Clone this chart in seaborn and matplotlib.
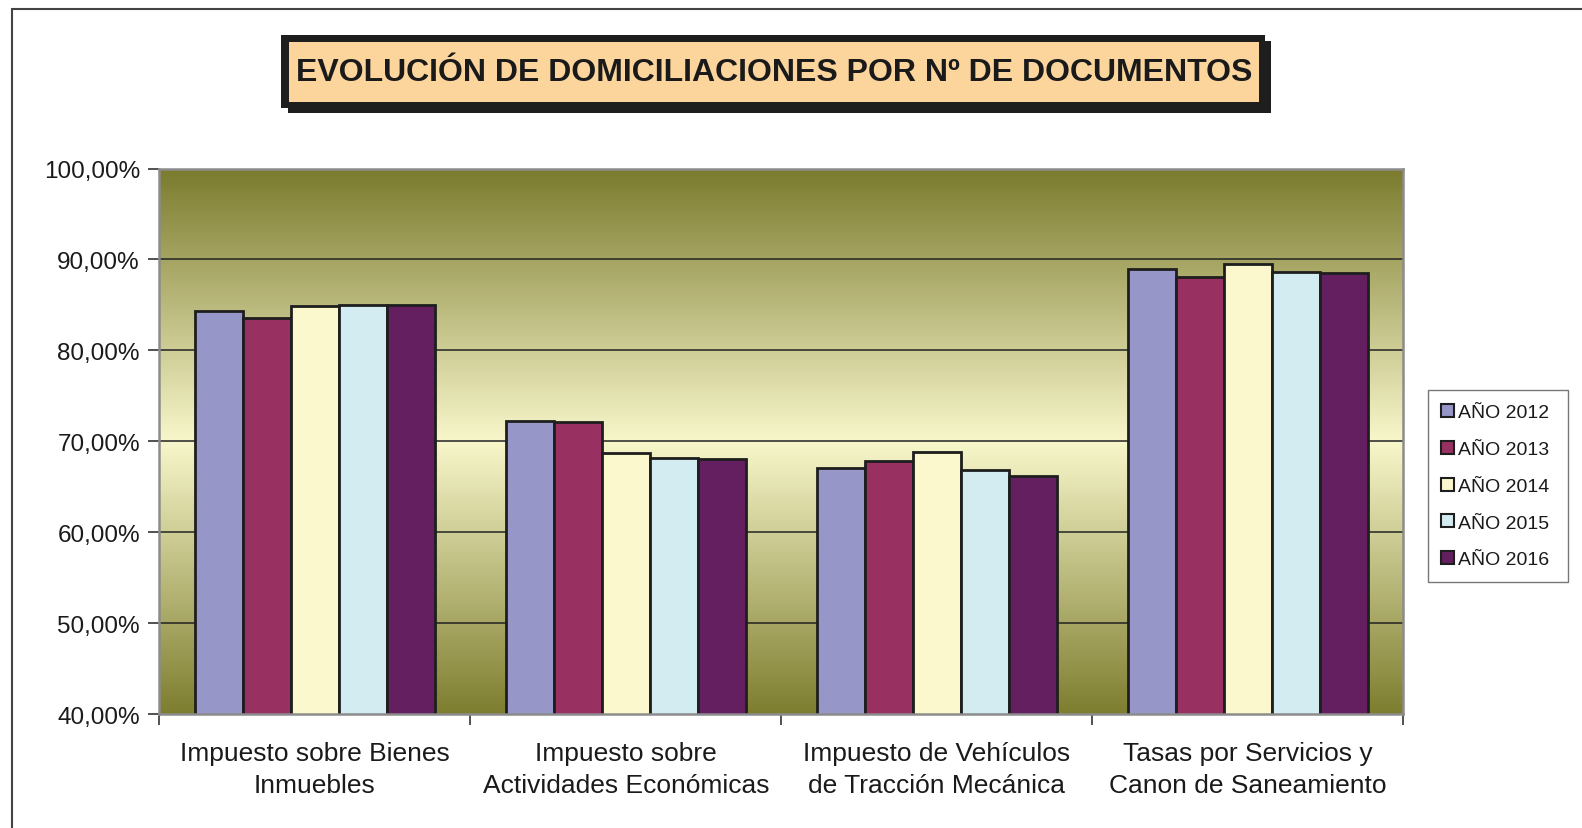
import numpy as np
import pandas as pd
import matplotlib
matplotlib.use("Agg")
import matplotlib.pyplot as plt
from matplotlib.colors import LinearSegmentedColormap
from matplotlib.patches import Rectangle, Patch
from matplotlib.ticker import FuncFormatter
import seaborn as sns

# data
categories = [
    "Impuesto sobre Bienes\nInmuebles",
    "Impuesto sobre\nActividades Económicas",
    "Impuesto de Vehículos\nde Tracción Mecánica",
    "Tasas por Servicios y\nCanon de Saneamiento",
]
years = ["AÑO 2012", "AÑO 2013", "AÑO 2014", "AÑO 2015", "AÑO 2016"]
v2012 = [84.35, 72.25, 67.05, 89.00]
v2013 = [83.55, 72.15, 67.80, 88.10]
v2014 = [84.90, 68.70, 68.80, 89.45]
v2015 = [85.00, 68.15, 66.90, 88.65]
v2016 = [85.00, 68.05, 66.25, 88.55]
colors = ["#9696C8", "#983062", "#FAF8CC", "#D3ECF2", "#631F60"]

series = [v2012, v2013, v2014, v2015, v2016]
df = pd.DataFrame({
    "cat": [c for s in series for c in categories],
    "year": [y for y, s in zip(years, series) for _ in s],
    "val": [v for s in series for v in s],
})

sns.set_style("white")
plt.rcParams["font.family"] = ["Liberation Sans", "DejaVu Sans"]
plt.rcParams["hatch.color"] = "#F2C68E"
plt.rcParams["hatch.linewidth"] = 0.8

fig = plt.figure(figsize=(15.82, 8.29), dpi=100)
W, H = 1582, 829
s = 1582 / 1568  # positions were measured on the shrunk preview


def fx(x):
    return x * s / W


def fy(y):
    return 1 - y * s / H


ax = fig.add_axes([fx(158), fy(709), fx(1391) - fx(158), fy(168) - fy(709)])

# background gradient: dark olive at top/bottom, pale yellow in the middle
cmap = LinearSegmentedColormap.from_list("bg", ["#7B7B2E", "#F8F7CB", "#7E7E30"])
grad = np.linspace(0, 1, 256).reshape(-1, 1)
ax.imshow(grad, cmap=cmap, extent=[-0.5, 3.5, 40, 100], aspect="auto", zorder=0)

sns.barplot(data=df, x="cat", y="val", hue="year", palette=colors,
            width=0.773, edgecolor="#1E1E1E", linewidth=2.0, saturation=1,
            ax=ax, legend=False, zorder=2)

ax.set_xlim(-0.5, 3.5)
ax.set_ylim(40, 100)
ax.set_yticks(np.arange(40, 101, 10))
ax.yaxis.set_major_formatter(FuncFormatter(lambda v, p: f"{v:.2f}".replace(".", ",") + "%"))
for yv in [50, 60, 70, 80, 90]:
    ax.axhline(yv, color="#222222", lw=1.1, zorder=1)

ax.set_xlabel("")
ax.set_ylabel("")
ax.tick_params(axis="y", which="major", left=True, length=8, width=1.2, color="#333333",
               labelsize=17.5, labelcolor="#1A1A1A", pad=6)
ax.tick_params(axis="x", which="major", bottom=False, length=0, labelsize=19,
               labelcolor="#1A1A1A", pad=19)
ax.set_xticks([-0.5, 0.5, 1.5, 2.5, 3.5], minor=True)
ax.tick_params(axis="x", which="minor", bottom=True, length=8, width=1.2, color="#333333")
for lbl in ax.get_xticklabels():
    lbl.set_linespacing(1.42)
    lbl.set_ha("center")

for side in ["left", "right", "top", "bottom"]:
    ax.spines[side].set_visible(True)
    ax.spines[side].set_color("#8C8C8C")
    ax.spines[side].set_linewidth(1.8)

# legend
handles = [Patch(facecolor=c, edgecolor="#1E1E1E", linewidth=1.5) for c in colors]
leg = fig.legend(handles, [y + " " for y in years], loc="upper left",
                 bbox_to_anchor=(fx(1415), fy(388)), fontsize=14,
                 frameon=True, fancybox=False, edgecolor="#555555",
                 handlelength=0.65, handleheight=0.65, handletextpad=0.2,
                 labelspacing=1.0, borderpad=0.7, borderaxespad=0)
leg.get_frame().set_linewidth(1.0)
for t in leg.get_texts():
    t.set_color("#1A1A1A")

# outer frame (runs off the right and bottom edge)
fig.patches.append(Rectangle((fx(12), -0.05), 1.1, fy(10) + 0.05,
                             transform=fig.transFigure, fill=False,
                             edgecolor="#444444", lw=1.5, zorder=0))

# title box with shadow
fig.patches.append(Rectangle((fx(285), fy(113)), fx(1260) - fx(285), fy(42) - fy(113),
                             transform=fig.transFigure, facecolor="#1E1E1E",
                             edgecolor="none", zorder=1))
fig.patches.append(Rectangle((fx(279), fy(108)), fx(1254) - fx(279), fy(36) - fy(108),
                             transform=fig.transFigure, facecolor="#1E1E1E",
                             edgecolor="none", zorder=2))
fig.patches.append(Rectangle((fx(286), fy(102)), fx(1248) - fx(286), fy(43) - fy(102),
                             transform=fig.transFigure, facecolor="#FCD59C",
                             edgecolor="none", hatch="\\\\\\\\", zorder=3))
fig.text(fx((286 + 1248) / 2), fy(72), "EVOLUCIÓN DE DOMICILIACIONES POR Nº DE DOCUMENTOS",
         ha="center", va="center", fontsize=23.0, fontweight="bold", color="#1A1A1A", zorder=4)

fig.savefig("out.png", dpi=100)
